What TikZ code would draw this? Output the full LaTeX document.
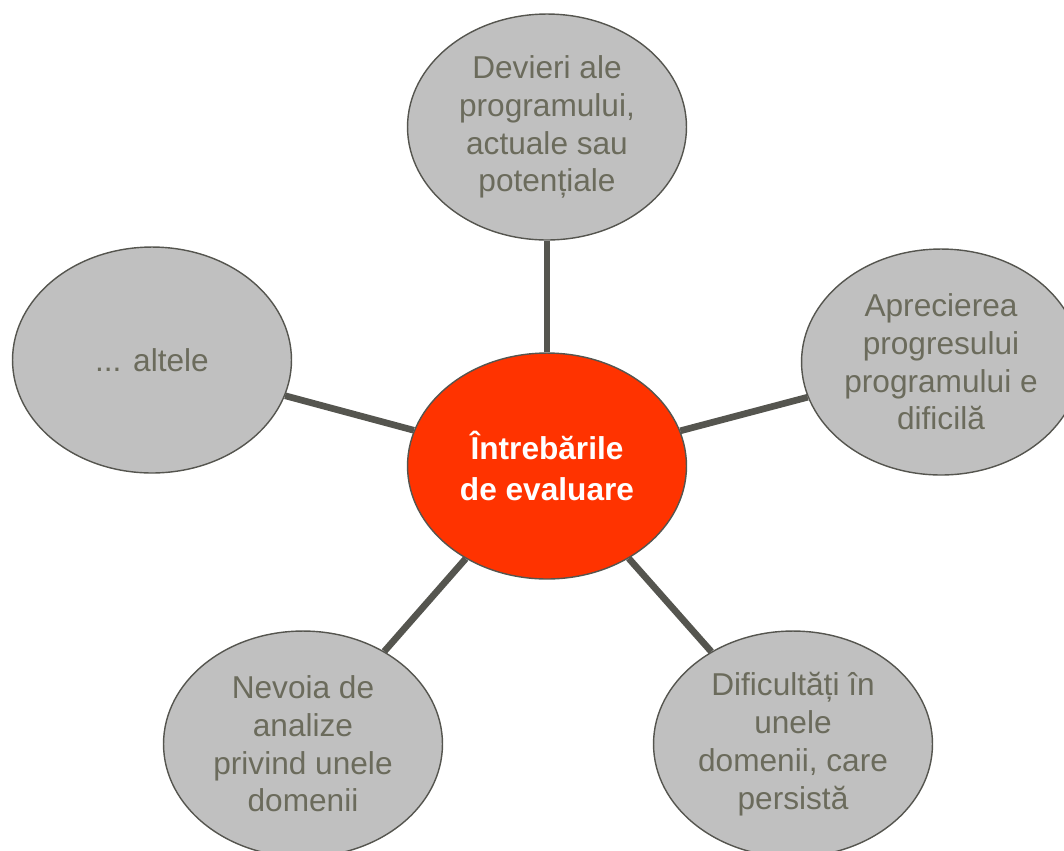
\documentclass[tikz,border=0pt]{standalone}
\usepackage{fontspec}
\setmainfont{Liberation Sans}
\usetikzlibrary{shapes.geometric}
\definecolor{bubblegray}{HTML}{C0C0C0}
\definecolor{linegray}{HTML}{55554F}
\definecolor{textgray}{HTML}{6B6B5C}
\definecolor{corered}{HTML}{FF3300}
\tikzset{
	bubble/.style={ellipse, draw=linegray, line width=0.8pt, fill=bubblegray, inner sep=0pt,
		minimum width=5.58cm, minimum height=4.52cm, align=center, text=textgray,
		font=\fontsize{18}{21.5}\selectfont},
	core/.style={bubble, fill=corered, text=white, font=\bfseries\fontsize{18}{23}\selectfont},
	spoke/.style={line width=3.8pt, draw=linegray}
}

\begin{document}
\begin{tikzpicture}[x=0.02cm, y=-0.02cm]
			%%%%% START %%%%%
			
			\useasboundingbox (0, 0) rectangle (1064, 850);
			
			\node[core] (center) at (547, 466) {Întrebările\\de evaluare};
			
			\node[bubble] (top) at (547, 127) {Devieri ale\\programului,\\actuale sau\\potențiale};
			\node[bubble] (right) at (941, 362) {Aprecierea\\progresului\\programului e\\dificilă};
			\node[bubble] (left) at (152, 360) {... altele};
			\node[bubble] (botleft) at (303, 744) {Nevoia de\\analize\\privind unele\\domenii};
			\node[bubble] (botright) at (793, 744) {Dificultăți în\\unele\\domenii, care\\persistă};
			
			\draw[spoke] (center) -- (top);
			\draw[spoke] (center) -- (right);
			\draw[spoke] (center) -- (left);
			\draw[spoke] (center) -- (botleft);
			\draw[spoke] (center) -- (botright);
			
			%%%%% END %%%%%
\end{tikzpicture}
\end{document}
